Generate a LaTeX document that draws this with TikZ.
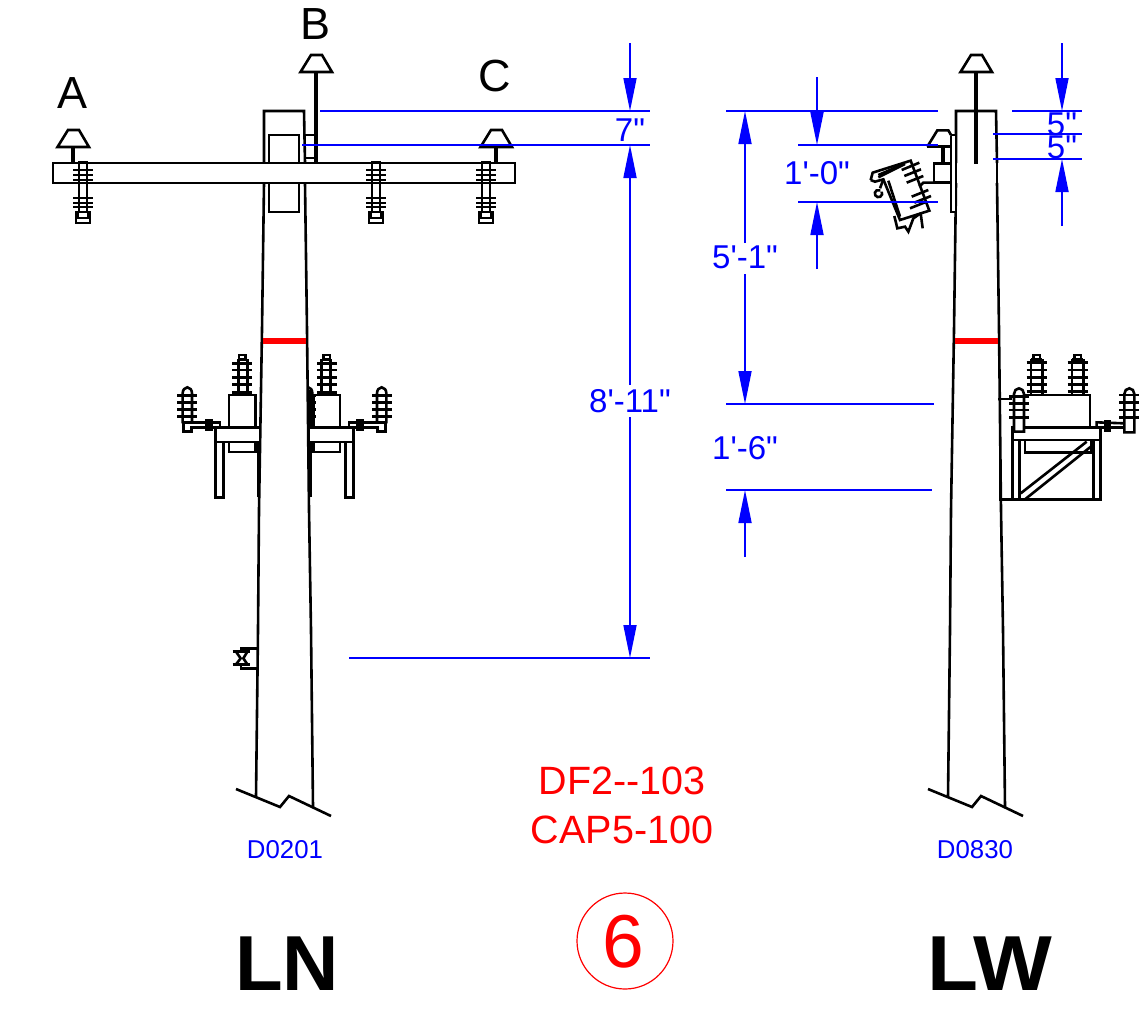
\documentclass[tikz,border=0pt]{standalone}
\usepackage{fontspec}
\setmainfont{Liberation Sans}[Ligatures=TeXOff]
\usetikzlibrary{arrows.meta}
\definecolor{dimblue}{RGB}{0,0,255}
\definecolor{capred}{RGB}{255,0,0}
\tikzset{
  ink/.style={draw=black,line width=2.6pt,line join=miter},
  thin ink/.style={draw=black,line width=1.8pt},
  dimline/.style={draw=dimblue,line width=1.7pt},
  dimarrow/.style={draw=dimblue,line width=1.7pt,-{Triangle[length=33pt,width=13pt,fill=dimblue]}},
  dimtext/.style={text=dimblue,anchor=base,inner sep=0pt,font=\fontsize{33}{33}\selectfont},
  lett/.style={text=black,anchor=base,inner sep=0pt,font=\fontsize{45}{45}\selectfont},
  redtext/.style={text=capred,anchor=base,inner sep=0pt,font=\fontsize{39.5}{39.5}\selectfont},
  idtext/.style={text=dimblue,anchor=base,inner sep=0pt,font=\fontsize{25.8}{25.8}\selectfont},
  bigtext/.style={text=black,anchor=base,inner sep=0pt,font=\fontsize{78}{78}\selectfont\bfseries},
}
% pole outline, top box left at x=264 for the LN view
\newcommand{\poleoutline}{%
  \draw[ink] (0,163) -- (0,111) -- (40,111) -- (41,163);
  \draw[ink] (0,183) -- (-2,330) -- (-5,510) -- (-6,630) -- (-8,797);
  \draw[ink] (41,183) -- (43,330) -- (45,510) -- (47,630) -- (49,807);
  \draw[ink] (-28,789) -- (16,807) -- (25,796) -- (67,816);
  \draw[line width=5.5pt,draw=capred] (-1,341) -- (42,341);
}
% top pin insulator
\newcommand{\toppin}[3]{%
  \draw[ink,fill=white] (#1-15.5,#2+17) -- (#1-5,#2) -- (#1+6,#2) -- (#1+16,#2+17) -- cycle;
  \draw[black,line width=3.8pt] (#1,#2+17) -- (#1,#3);
}
% bolt through the cross arm
\newcommand{\armbolt}[1]{%
  \draw[ink] (#1-4,162) rectangle (#1+4,212);
  \foreach \y in {170,175,180,198,203,207}{\draw[ink] (#1-10,\y) -- (#1+10,\y);}
  \draw[ink,fill=white] (#1-7,212) rectangle (#1+7,223);
  \draw[thin ink] (#1-5,212) -- (#1-5,218) -- (#1+5,218) -- (#1+5,212);
}
% capacitor unit in 3x zoom coordinates
\newcommand{\halfunit}{%
  \draw[ink] (207,88) -- (207,75) -- (227,75) -- (227,88);
  \draw[ink] (205,88) -- (230,88);
  \draw[ink] (205,88) -- (205,195);
  \draw[ink] (232,88) -- (232,195);
  \foreach \y in {100,120,142,163,187}{\draw[ink] (187,\y) -- (247,\y);}
  \draw[ink,fill=white] (177,195) rectangle (257,293);
  \draw[ink,fill=white] (137,293) rectangle (270,336);
  \draw[ink] (177,336) -- (177,366) -- (257,366) -- (257,336);
  \draw[ink] (137,336) -- (137,502) -- (160,502) -- (160,336);
  \draw[ink] (265,336) -- (265,500);
  \draw[ink] (38,280) -- (38,190) arc[start angle=180,end angle=360,x radius=14,y radius=18] -- (66,280);
  \foreach \y in {197,217,238,259}{\draw[ink] (22,\y) -- (82,\y);}
  \draw[ink] (40,278) -- (150,278) -- (150,293) -- (137,293);
  \draw[ink] (40,278) -- (40,305) -- (65,305) -- (65,293) -- (137,293);
  \foreach \x in {110,118,125}{\draw[ink] (\x,268) -- (\x,303);}
}
\begin{document}
\begin{tikzpicture}[x=1pt,y=-1pt]
\useasboundingbox (0,0) rectangle (1140,1013);
\fill[white] (0,0) rectangle (1140,1013);

% ===== LN view =====
\begin{scope}[shift={(264,0)}]\poleoutline\end{scope}
% inner block behind the arm
\draw[ink] (269,163) -- (269,135) -- (299,135) -- (299,163);
\draw[ink] (269,183) -- (269,212) -- (299,212) -- (299,183);
% bracket of the B pin
\draw[ink] (304,135) -- (316,135);
\draw[ink] (304,158) -- (316,158);
\toppin{316}{55}{163}
\toppin{73}{130}{163}
\toppin{496}{130}{163}
% cross arm
\draw[ink,fill=white] (53,163) rectangle (515,183);
\armbolt{83}\armbolt{376}\armbolt{486}
% capacitor, both sides
\begin{scope}[shift={(170,330)},scale=1/3]
  \halfunit
\end{scope}
\begin{scope}[shift={(399,330)},xscale=-1/3,yscale=1/3]
  \halfunit
\end{scope}
% arrester half hidden by the pole
\begin{scope}[shift={(170,330)},scale=1/3]
  \draw[ink] (415,172) arc[start angle=-90,end angle=0,x radius=12,y radius=18] -- (427,290);
  \foreach \y in {197,217,238,259}{\draw[ink] (415,\y) -- (437,\y);}
  \draw[ink] (419,180) -- (419,290);
\end{scope}
% ground lug
\begin{scope}[shift={(210,630)},scale=1/3]
  \draw[ink] (143,55) -- (93,55) -- (93,65);
  \draw[ink] (93,105) -- (93,115) -- (143,115);
  \draw[ink] (68,65) -- (120,65);
  \draw[ink] (68,103) -- (120,103);
  \draw[ink] (78,65) -- (92,85) -- (78,103);
  \draw[ink] (112,65) -- (100,85) -- (112,103);
\end{scope}

% ===== LW view =====
\begin{scope}[shift={(956,0)}]\poleoutline\end{scope}
\draw[ink] (956,183) -- (956,163);
\draw[ink] (997,183) -- (997,163);
\toppin{976}{55}{164}
% side plate, side pin and cut-out
\begin{scope}[shift={(850,40)},scale=1/3]
  \draw[ink,fill=white] (303,285) rectangle (318,516);
  \draw[ink,fill=white] (232,320) -- (262,271) -- (295,271) -- (303,285);
  \draw[ink] (232,320) -- (303,320);
  \draw[black,line width=3.8pt] (279,320) -- (279,370);
  \draw[ink] (303,370) -- (252,370) -- (252,428) -- (303,428);
  \draw[ink] (62,420) -- (68,398) -- (182,362) -- (238,512) -- (150,540) -- (100,418) -- (75,425) -- (62,420);
  \draw[ink] (85,405) -- (155,375);
  \draw[ink] (85,412) -- (165,372);
  \draw[ink] (115,422) -- (150,530);
  \draw[ink] (133,528) -- (142,565) -- (165,560) -- (175,575) -- (190,535) -- (212,520);
  \draw[ink] (212,520) -- (218,565);
  \draw[ink] (95,455) arc[start angle=-30,end angle=300,radius=11];
  \draw[ink] (90,445) -- (100,418);
  \draw[ink] (155,390) -- (208,368);
  \draw[ink] (163,408) -- (213,388);
  \draw[ink] (170,428) -- (220,408);
  \draw[ink] (185,470) -- (235,450);
  \draw[ink] (193,488) -- (243,468);
  \draw[ink] (180,505) -- (230,485);
  \draw[ink] (208,440) -- (220,428) -- (262,428);
\end{scope}
% capacitor on the LW view
\begin{scope}[shift={(990,340)},scale=1/3]
  \draw[ink] (25,177) -- (67,177);
  \draw[ink] (30,177) -- (30,478) -- (67,478);
  \foreach \c in {140,263}{
    \draw[ink] (\c-10,58) -- (\c-10,45) -- (\c+10,45) -- (\c+10,58);
    \draw[ink] (\c-17,58) -- (\c+17,58);
    \draw[ink] (\c-17,58) -- (\c-17,165);
    \draw[ink] (\c+17,58) -- (\c+17,165);
    \foreach \y in {68,90,112,133,155}{\draw[ink] (\c-30,\y) -- (\c+30,\y);}
  }
  \draw[ink,fill=white] (85,165) rectangle (300,263);
  \draw[ink,fill=white] (67,263) rectangle (332,300);
  \draw[ink] (105,300) -- (105,337) -- (305,337) -- (305,300);
  \draw[ink] (67,300) -- (67,478) -- (332,478) -- (332,300);
  \draw[ink] (88,300) -- (88,478);
  \draw[ink] (310,300) -- (310,478);
  \draw[ink] (92,460) -- (290,305);
  \draw[ink] (105,478) -- (305,318);
  % arresters
  \draw[ink,fill=white] (72,275) -- (72,162) arc[start angle=180,end angle=360,x radius=15,y radius=17] -- (102,275) -- cycle;
  \foreach \y in {170,190,210,233}{\draw[ink] (58,\y) -- (118,\y);}
  \draw[ink] (403,277) -- (403,162) arc[start angle=180,end angle=360,x radius=15,y radius=17] -- (433,277) -- cycle;
  \foreach \y in {165,188,210,233}{\draw[ink] (388,\y) -- (448,\y);}
  \draw[ink] (332,263) -- (320,263) -- (320,247) -- (403,250);
  \draw[ink] (332,263) -- (403,263);
  \foreach \x in {345,351,358}{\draw[ink] (\x,240) -- (\x,275);}
\end{scope}

% ===== dimensions =====
\draw[dimline] (320,111) -- (650,111);
\draw[dimline] (302,145) -- (650,145);
\draw[dimline] (349,658) -- (650,658);
\draw[dimarrow] (630,43) -- (630,111);
\draw[dimarrow] (630,385) -- (630,145);
\draw[dimarrow] (630,417) -- (630,658);
\node[dimtext] (t7) at (630,141) {7"};
\node[dimtext] (t811) at (630,412) {8'-11"};

\draw[dimline] (726,111) -- (938,111);
\draw[dimline] (798,145) -- (938,145);
\draw[dimline] (798,202) -- (938,202);
\draw[dimline] (726,404) -- (934,404);
\draw[dimline] (726,490) -- (932,490);
\draw[dimarrow] (745,243) -- (745,111);
\draw[dimarrow] (745,274) -- (745,404);
\draw[dimarrow] (817,77) -- (817,145);
\draw[dimarrow] (817,269) -- (817,202);
\draw[dimarrow] (745,557) -- (745,490);
\node[dimtext] (t10) at (817,184) {1'-0"};
\node[dimtext] (t51) at (745,268) {5'-1"};
\node[dimtext] (t16) at (745,459) {1'-6"};

\draw[dimline] (1012,111) -- (1082,111);
\draw[dimline] (993,134) -- (1082,134);
\draw[dimline] (993,159) -- (1082,159);
\draw[dimarrow] (1062,43) -- (1062,111);
\draw[dimarrow] (1062,226) -- (1062,159);
\node[dimtext] (t5a) at (1062,135) {5"};
\node[dimtext] (t5b) at (1062,158) {5"};

% ===== texts =====
\node[lett] (la) at (73,108) {A};
\node[lett] (lb) at (316,39) {B};
\node[lett] (lc) at (495,91) {C};
\node[redtext] (r1) at (622,794) {DF2--103};
\node[redtext] (r2) at (622,843) {CAP5-100};
\node[idtext] (i1) at (285,858) {D0201};
\node[idtext] (i2) at (975,858) {D0830};
\node[bigtext] (ln) at (287,990) {LN};
\node[bigtext] (lw) at (990,990) {\scalebox{1.07}[1]{LW}};
\node[draw=capred,line width=1.2pt,circle,minimum size=96pt,inner sep=0pt] (circ) at (625,941) {};
\node[text=capred,anchor=base,inner sep=0pt,font=\fontsize{75}{75}\selectfont] (six) at (623,967) {6};
\end{tikzpicture}
\end{document}
